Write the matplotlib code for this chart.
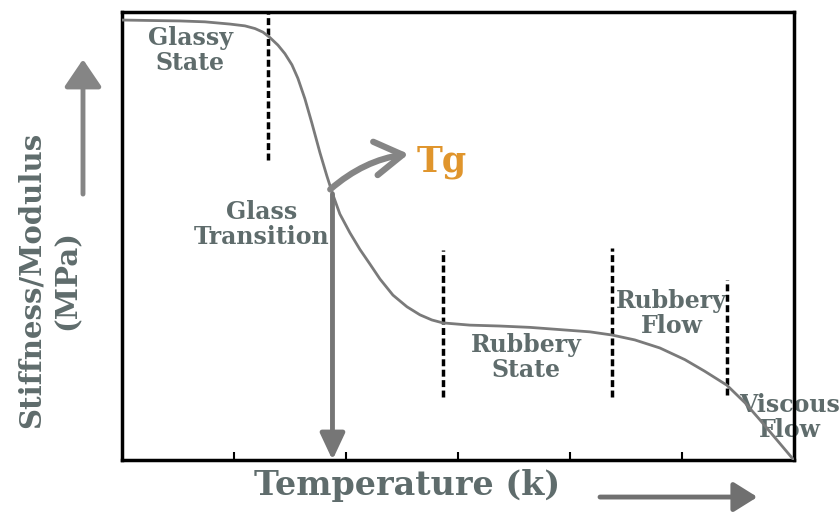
import matplotlib
matplotlib.use("Agg")
import matplotlib.pyplot as plt
from matplotlib.patches import FancyArrowPatch

# modulus vs temperature curve (arbitrary units)
temp = [0.0, 0.25, 0.518, 0.741, 0.964, 1.098, 1.188, 1.259, 1.321, 1.393, 1.455,
        1.518, 1.571, 1.634, 1.696, 1.768, 1.830, 1.884, 1.946, 2.036, 2.125,
        2.214, 2.304, 2.420, 2.545, 2.661, 2.768, 2.866, 3.107, 3.375, 3.643,
        3.911, 4.179, 4.375, 4.580, 4.804, 5.027, 5.205, 5.402, 5.563, 5.696,
        5.848, 6.0]
modulus = [0.982, 0.981, 0.980, 0.978, 0.973, 0.969, 0.963, 0.955, 0.943, 0.926,
           0.907, 0.882, 0.852, 0.806, 0.752, 0.686, 0.634, 0.592, 0.549, 0.507,
           0.470, 0.4375, 0.404, 0.368, 0.342, 0.324, 0.3125, 0.306, 0.301, 0.299,
           0.296, 0.291, 0.286, 0.279, 0.268, 0.250, 0.224, 0.198, 0.167, 0.128,
           0.090, 0.045, 0.0]

# region boundaries (x, y_low, y_high)
bound_x = [1.30, 2.87, 4.38, 5.40]
bound_lo = [0.670, 0.141, 0.141, 0.145]
bound_hi = [1.000, 0.469, 0.473, 0.402]

regions = ["Glassy\nState", "Glass\nTransition", "Rubbery\nState", "Rubbery\nFlow", "Viscous\nFlow"]
region_x = [0.61, 1.25, 3.61, 4.91, 5.96]
region_y = [0.915, 0.525, 0.228, 0.328, 0.094]

tg_x, tg_y = 1.88, 0.594
xticks = [1, 2, 3, 4, 5]

TXT = "#5f6c6c"
GREY = "#7a7a7a"
FONT = "DejaVu Serif"

fig = plt.figure(figsize=(8.4, 5.14), dpi=100)
ax = fig.add_axes([0.1452, 0.1051, 0.7998, 0.8716])

ax.plot(temp, modulus, color=GREY, lw=2, zorder=3)
for x, lo, hi in zip(bound_x, bound_lo, bound_hi):
    ax.plot([x, x], [lo, hi], color="black", lw=2.5, ls=(0, (2.0, 1.0)), zorder=2)

for t, x, y in zip(regions, region_x, region_y):
    ax.text(x, y, t, ha="center", va="center", fontsize=17, color=TXT,
            family=FONT, weight="bold", linespacing=1.05, clip_on=False, zorder=1)

# Tg marker: vertical arrow down to axis and curved arrow to label
ax.annotate("", xy=(tg_x, 0.0), xytext=(tg_x, tg_y),
            arrowprops=dict(arrowstyle="-|>,head_length=1.6,head_width=0.75",
                            color="#767676", lw=3.5, shrinkA=0, shrinkB=0), zorder=4)
ax.annotate("", xy=(2.56, 0.683), xytext=(tg_x - 0.02, tg_y + 0.01),
            arrowprops=dict(arrowstyle="->,head_length=0.9,head_width=0.55",
                            color="#858585", lw=4.5, shrinkA=0, shrinkB=0,
                            mutation_scale=22,
                            connectionstyle="arc3,rad=-0.15"), zorder=4)
ax.text(2.63, 0.665, "Tg", fontsize=25, color="#e0952c", family=FONT,
        weight="bold", ha="left", va="center")

ax.set_xlim(0, 6)
ax.set_ylim(0, 1)
ax.set_xticks(xticks)
ax.set_xticklabels([])
ax.set_yticks([])
ax.tick_params(axis="x", direction="in", length=6, width=1.5)
for s in ax.spines.values():
    s.set_linewidth(2.5)

fig.text(0.485, 0.055, "Temperature (k)", ha="center", va="center", fontsize=24,
         color=TXT, family=FONT, weight="bold")
fig.text(0.059, 0.455, "Stiffness/Modulus\n(MPa)", ha="center", va="center",
         rotation=90, fontsize=21, color=TXT, family=FONT, weight="bold",
         linespacing=1.3)

# axis direction arrows
fig.patches.append(FancyArrowPatch(
    (0.0988, 0.617), (0.0988, 0.890), transform=fig.transFigure,
    arrowstyle="-|>,head_length=1.4,head_width=0.95", color="#858585", lw=3.5,
    mutation_scale=12))
fig.patches.append(FancyArrowPatch(
    (0.711, 0.033), (0.905, 0.033), transform=fig.transFigure,
    arrowstyle="-|>,head_length=1.2,head_width=0.75", color="#707070", lw=3.5,
    mutation_scale=12))

fig.savefig("out.png", dpi=100)
